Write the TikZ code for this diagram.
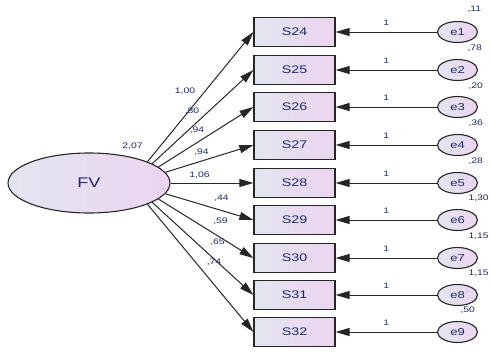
\documentclass[tikz,border=0pt]{standalone}
\usepackage{fontspec}
\setmainfont[FakeStretch=1.3]{Liberation Sans}
\usetikzlibrary{
	arrows.meta,
	shapes.geometric,
	positioning,
}
\definecolor{semtext}{RGB}{30,40,105}
\definecolor{semleft}{RGB}{226,230,240}
\definecolor{semright}{RGB}{236,212,240}
\tikzset{observed/.style={
		% The shape:
		rectangle,
		% The size:
		minimum width=81pt,minimum height=29pt,
		% The border:
		line width=1.2pt,draw=black!85,
		% The filling:
		left color=semleft, % light grey-blue on the left...
		right color=semright, % and a light lilac on the right
		% The text:
		text=semtext,font=\fontsize{11}{11}\selectfont,
}}
\tikzset{latent/.style={
		% The shape:
		ellipse,
		% The size:
		minimum width=162pt,minimum height=60pt,
		% The rest
		line width=1.1pt,draw=black!85,
		left color=semleft,right color=semright,
		text=semtext,font=\fontsize{14}{14}\selectfont,
}}
\tikzset{errterm/.style={
		% The shape:
		ellipse,inner sep=0pt,
		% The size:
		minimum width=40pt,minimum height=21pt,
		% The rest
		line width=1.1pt,draw=black!85,
		left color=semleft,right color=semright,
		text=semtext,font=\fontsize{10}{10}\selectfont,
}}
\tikzset{lbl/.style={
		inner sep=0pt,text=semtext,
		font=\fontsize{8}{8}\selectfont,
}}

\begin{document}
\begin{tikzpicture}[x=1pt,y=-1pt,>={Triangle[length=14pt,width=8pt]},
	line width=1pt,black!85,text=semtext]
	\useasboundingbox (0,0) rectangle (490,351);
	% latent factor
	\node[latent] (fv) at (89,183) {FV};
	\node[lbl] (vfv) at (132.5,146.5) {2,07};
	% items
	\node[observed] (s24) at (294.5,32) {S24};
	\node[observed] (s25) at (294.5,70) {S25};
	\node[observed] (s26) at (294.5,107) {S26};
	\node[observed] (s27) at (294.5,145) {S27};
	\node[observed] (s28) at (294.5,183) {S28};
	\node[observed] (s29) at (294.5,220) {S29};
	\node[observed] (s30) at (294.5,258) {S30};
	\node[observed] (s31) at (294.5,295) {S31};
	\node[observed] (s32) at (294.5,332) {S32};
	% error terms
	\node[errterm] (e1) at (457.5,32) {e1};
	\node[errterm] (e2) at (457.5,70) {e2};
	\node[errterm] (e3) at (457.5,107) {e3};
	\node[errterm] (e4) at (457.5,145) {e4};
	\node[errterm] (e5) at (457.5,183) {e5};
	\node[errterm] (e6) at (457.5,220) {e6};
	\node[errterm] (e7) at (457.5,258) {e7};
	\node[errterm] (e8) at (457.5,295) {e8};
	\node[errterm] (e9) at (457.5,332) {e9};
	% loadings
	\draw [->] (fv.20) -- (s24.west);
	\draw [->] (fv.17) -- (s25.west);
	\draw [->] (fv.13) -- (s26.west);
	\draw [->] (fv.8) -- (s27.west);
	\draw [->] (fv.east) -- (s28.west);
	\draw [->] (fv.-8) -- (s29.west);
	\draw [->] (fv.-13) -- (s30.west);
	\draw [->] (fv.-17) -- (s31.west);
	\draw [->] (fv.-20) -- (s32.west);
	\node[lbl] (l24) at (185,91.5) {1,00};
	\node[lbl] (l25) at (192,111.5) {,80};
	\node[lbl] (l26) at (197,130.5) {,94};
	\node[lbl] (l27) at (201.5,152) {,94};
	\node[lbl] (l28) at (199.5,175) {1,06};
	\node[lbl] (l29) at (221.5,198) {,44};
	\node[lbl] (l30) at (220.5,221) {,59};
	\node[lbl] (l31) at (217.5,242) {,65};
	\node[lbl] (l32) at (214,262) {,74};
	% error paths, fixed to 1
	\draw [->] (e1) -- node[lbl,above=6pt] (f1) {1} (s24.east);
	\draw [->] (e2) -- node[lbl,above=6pt] (f2) {1} (s25.east);
	\draw [->] (e3) -- node[lbl,above=6pt] (f3) {1} (s26.east);
	\draw [->] (e4) -- node[lbl,above=6pt] (f4) {1} (s27.east);
	\draw [->] (e5) -- node[lbl,above=6pt] (f5) {1} (s28.east);
	\draw [->] (e6) -- node[lbl,above=6pt] (f6) {1} (s29.east);
	\draw [->] (e7) -- node[lbl,above=6pt] (f7) {1} (s30.east);
	\draw [->] (e8) -- node[lbl,above=6pt] (f8) {1} (s31.east);
	\draw [->] (e9) -- node[lbl,above=6pt] (f9) {1} (s32.east);
	% error variances
	\node[lbl,anchor=west] (v1) at (467,9) {,11};
	\node[lbl,anchor=west] (v2) at (467,48) {,78};
	\node[lbl,anchor=west] (v3) at (468,86) {,20};
	\node[lbl,anchor=west] (v4) at (468,123) {,36};
	\node[lbl,anchor=west] (v5) at (468,161) {,28};
	\node[lbl,anchor=west] (v6) at (468,198) {1,30};
	\node[lbl,anchor=west] (v7) at (468,236) {1,15};
	\node[lbl,anchor=west] (v8) at (468,273) {1,15};
	\node[lbl,anchor=west] (v9) at (460,310) {,50};
\end{tikzpicture}
\end{document}
